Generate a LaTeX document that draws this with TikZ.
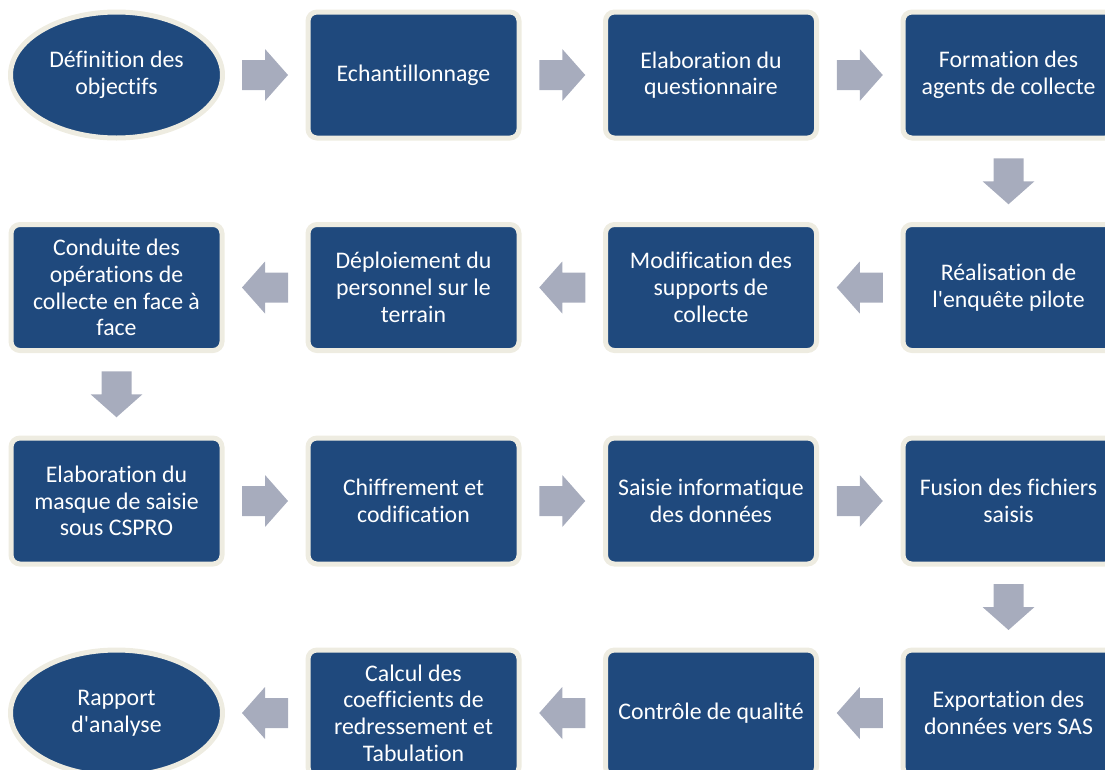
\documentclass[tikz,border=0pt]{standalone}
\usepackage{fontspec}
\newfontfamily\stepfont{Carlito}[Ligatures=NoCommon]
\usetikzlibrary{shapes.geometric,calc}
\definecolor{boxblue}{HTML}{1F497D}
\definecolor{boxrim}{HTML}{EEECE1}
\definecolor{arrowgray}{HTML}{A7ACBD}
\tikzset{
  stepbox/.style={draw=boxrim, line width=5pt, fill=boxblue, rounded corners=9pt,
    minimum width=211pt, minimum height=126pt, text=white, align=center,
    font=\stepfont\fontsize{23.8}{26.7}\selectfont, inner sep=0pt},
  stepoval/.style={ellipse, draw=boxrim, line width=5pt, fill=boxblue,
    minimum width=212pt, minimum height=126pt, text=white, align=center,
    font=\stepfont\fontsize{23.8}{26.7}\selectfont, inner sep=0pt},
  blockarrowstyle/.style={fill=arrowgray, draw=none}
}
\newcommand{\blockarrow}[3]{%
  \path ($(#1)!0.5!(#2)$) coordinate (mid-#1-#2);
  \fill[blockarrowstyle, shift={(mid-#1-#2)}, rotate=#3]
    (-23,-15) -- (0,-15) -- (0,-26) -- (23,0) -- (0,26) -- (0,15) -- (-23,15) -- cycle;
}
\begin{document}
\begin{tikzpicture}[x=1pt,y=-1pt]
\useasboundingbox (0,0) rectangle (1105,769);
\clip (0,0) rectangle (1105,769);
% row 1
\node[stepoval] (n1) at (116.5,75) {Définition des\\objectifs};
\node[stepbox] (n2) at (413.5,75) {Echantillonnage};
\node[stepbox] (n3) at (711,75) {Elaboration du\\questionnaire};
\node[stepbox] (n4) at (1008.5,75) {Formation des\\agents de collecte};
% row 2
\node[stepbox] (n5) at (1008.5,287.5) {Réalisation de\\l'enquête pilote};
\node[stepbox] (n6) at (711,287.5) {Modification des\\supports de\\collecte};
\node[stepbox] (n7) at (413.5,287.5) {Déploiement du\\personnel sur le\\terrain};
\node[stepbox] (n8) at (116.5,287.5) {Conduite des\\opérations de\\collecte en face à\\face};
% row 3
\node[stepbox] (n9) at (116.5,501) {Elaboration du\\masque de saisie\\sous CSPRO};
\node[stepbox] (n10) at (413.5,501) {Chiffrement et\\codification};
\node[stepbox] (n11) at (711,501) {Saisie informatique\\des données};
\node[stepbox] (n12) at (1008.5,501) {Fusion des fichiers\\saisis};
% row 4
\node[stepbox] (n13) at (1008.5,713) {Exportation des\\données vers SAS};
\node[stepbox] (n14) at (711,713) {Contrôle de qualité};
\node[stepbox] (n15) at (413.5,713) {Calcul des\\coefficients de\\redressement et\\Tabulation};
\node[stepoval] (n16) at (116.5,713) {Rapport\\d'analyse};
% arrows
\blockarrow{n1}{n2}{0}
\blockarrow{n2}{n3}{0}
\blockarrow{n3}{n4}{0}
\blockarrow{n4}{n5}{-90}
\blockarrow{n5}{n6}{180}
\blockarrow{n6}{n7}{180}
\blockarrow{n7}{n8}{180}
\blockarrow{n8}{n9}{-90}
\blockarrow{n9}{n10}{0}
\blockarrow{n10}{n11}{0}
\blockarrow{n11}{n12}{0}
\blockarrow{n12}{n13}{-90}
\blockarrow{n13}{n14}{180}
\blockarrow{n14}{n15}{180}
\blockarrow{n15}{n16}{180}
\end{tikzpicture}
\end{document}
